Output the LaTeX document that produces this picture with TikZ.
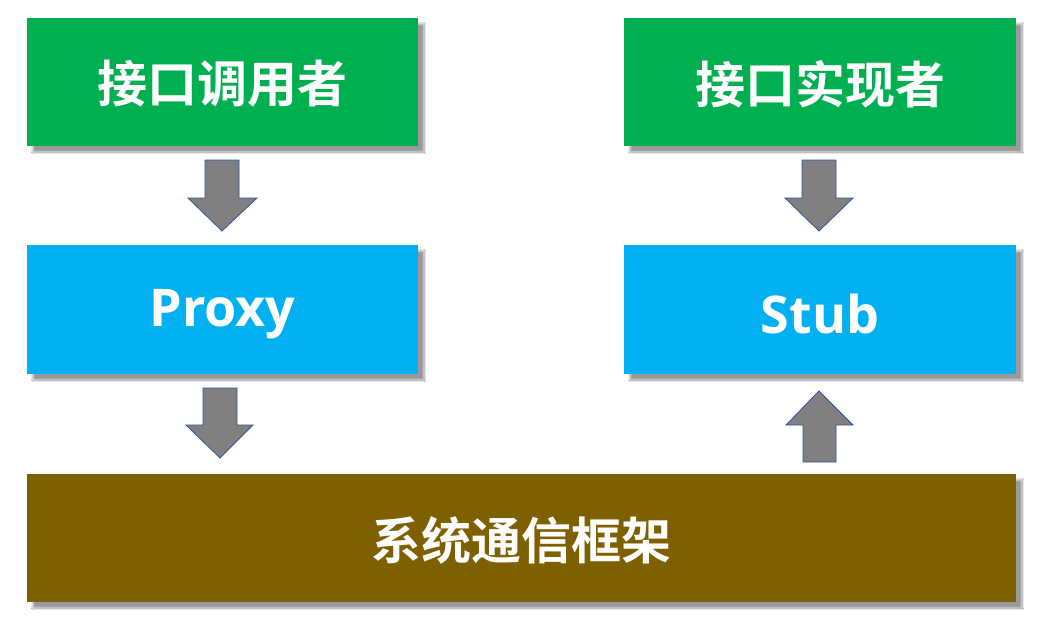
\documentclass[tikz,border=0pt]{standalone}
\usepackage{fontspec}
\newfontfamily\cjk{Noto Sans CJK SC}[BoldFont={Noto Sans CJK SC Bold}]
\newfontfamily\latin{Open Sans}
\usetikzlibrary{shadows.blur}
\definecolor{cgreen}{HTML}{00B050}
\definecolor{cblue}{HTML}{00B0F0}
\definecolor{cbrown}{HTML}{7F6000}
\definecolor{cgray}{HTML}{808080}
\definecolor{cedge}{HTML}{2F5597}
\begin{document}
\begin{tikzpicture}[x=1pt,y=-1pt,
  box/.style={draw=none,blur shadow={shadow xshift=6pt,shadow yshift=-6pt,shadow blur steps=10,shadow blur extra rounding=0pt,shadow opacity=40}},
  lbl/.style={text=white,font=\cjk\bfseries\fontsize{50}{54}\selectfont},
  llbl/.style={text=white,font=\latin\bfseries\fontsize{52}{56}\selectfont},
  arr/.style={fill=cgray,draw=cedge,line width=0.8pt,line join=miter}]
\useasboundingbox (0,0) rectangle (1043,621);
\fill[white] (0,0) rectangle (1043,621);
% boxes
\fill[cgreen,box] (27,18) rectangle (418,146);
\fill[cgreen,box] (624,18) rectangle (1016,146);
\fill[cblue,box] (27,245) rectangle (418,374);
\fill[cblue,box] (624,245) rectangle (1016,374);
\fill[cbrown,box] (27,474) rectangle (1016,602);
\node[lbl] (caller) at (222.5,84) {接口调用者};
\node[lbl] (impl) at (820,84) {接口实现者};
\node[llbl] (proxy) at (222.5,314) {Proxy};
\node[llbl] (stub) at (820,314) {Stub};
\node[lbl] (fw) at (521.5,540) {系统通信框架};
% arrows
\draw[arr] (205,160) -- (239,160) -- (239,198) -- (257,198) -- (222,231) -- (188,198) -- (205,198) -- cycle;
\draw[arr] (203,388) -- (237,388) -- (237,425) -- (253,425) -- (220,458) -- (186,425) -- (203,425) -- cycle;
\draw[arr] (802,160) -- (836,160) -- (836,198) -- (853,198) -- (819,231) -- (785,198) -- (802,198) -- cycle;
\draw[arr] (803,462) -- (836,462) -- (836,425) -- (853,425) -- (819,391) -- (786,425) -- (803,425) -- cycle;
\end{tikzpicture}
\end{document}
